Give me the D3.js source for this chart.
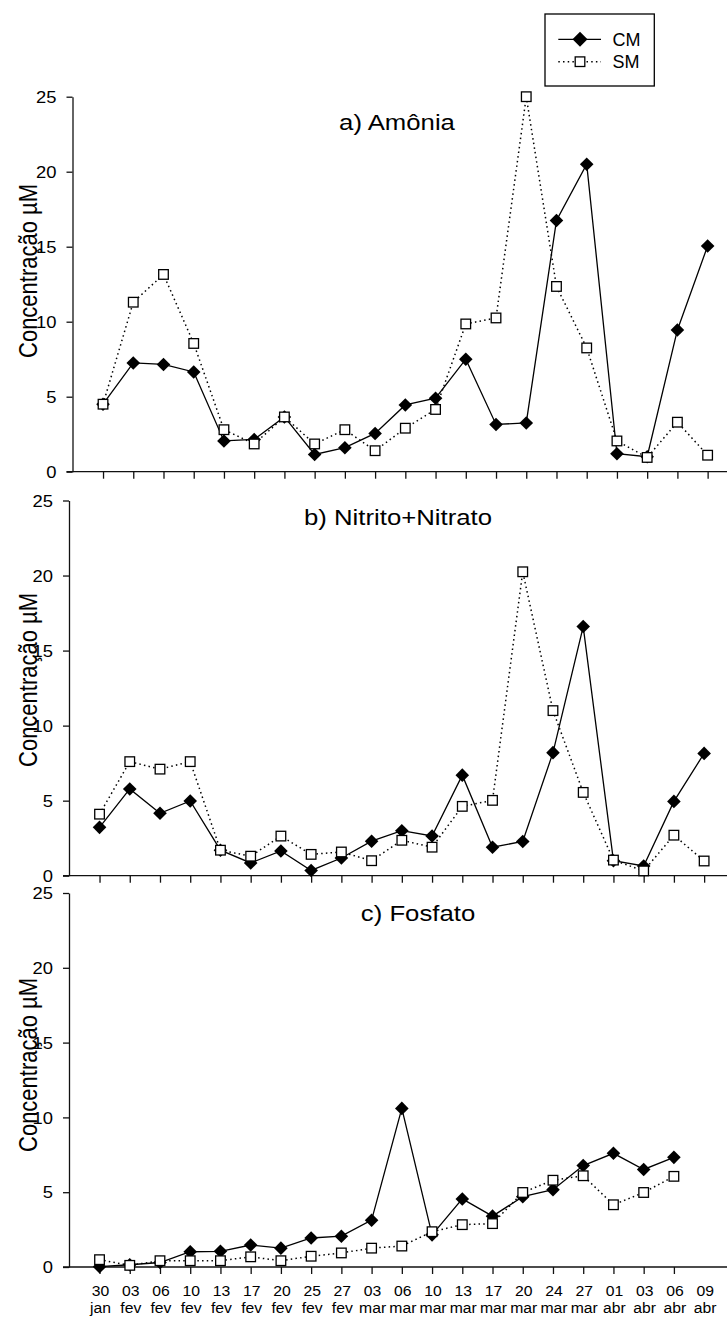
<!DOCTYPE html>
<html>
<head>
<meta charset="utf-8">
<script src="https://cdn.jsdelivr.net/npm/d3@7"></script>
<style>
  html, body { margin: 0; padding: 0; background: #fff; }
  svg { display: block; }
  text { font-family: "Liberation Sans", Arial, Helvetica, sans-serif; fill: #000; }
</style>
</head>
<body>
<svg id="chart" width="727" height="1318"></svg>
<script>
// Sampling dates (day / month)
const days   = ["30","03","06","10","13","17","20","25","27","03","06","10","13","17","20","24","27","01","03","06","09"];
const months = ["jan","fev","fev","fev","fev","fev","fev","fev","fev","mar","mar","mar","mar","mar","mar","mar","mar","abr","abr","abr","abr"];
const categories = days.map((d, i) => d + " " + months[i]);

// Concentrations (µM) — CM and SM series for each nutrient
const amoniaCM  = [4.5, 7.25, 7.15, 6.65, 2.05, 2.15, 3.65, 1.15, 1.6, 2.55, 4.45, 4.9, 7.5, 3.15, 3.25, 16.75, 20.5, 1.2, 1.0, 9.45, 15.05];
const amoniaSM  = [4.5, 11.3, 13.15, 8.55, 2.8, 1.85, 3.65, 1.85, 2.8, 1.4, 2.9, 4.15, 9.85, 10.25, 25.0, 12.35, 8.25, 2.05, 0.95, 3.3, 1.1];
const nitratoCM = [3.22, 5.78, 4.16, 4.98, 1.7, 0.85, 1.65, 0.35, 1.18, 2.3, 3.0, 2.65, 6.7, 1.9, 2.28, 8.2, 16.6, 1.0, 0.65, 4.95, 8.15];
const nitratoSM = [4.1, 7.6, 7.1, 7.6, 1.7, 1.3, 2.64, 1.42, 1.58, 1.0, 2.36, 1.9, 4.62, 5.02, 20.25, 11.0, 5.55, 1.04, 0.32, 2.7, 0.98];
const fosfatoCM = [0.02, 0.15, 0.3, 1.02, 1.05, 1.47, 1.26, 1.94, 2.06, 3.13, 10.6, 2.15, 4.55, 3.4, 4.7, 5.17, 6.78, 7.6, 6.52, 7.33, null];
const fosfatoSM = [0.49, 0.11, 0.42, 0.42, 0.42, 0.68, 0.42, 0.72, 0.94, 1.26, 1.4, 2.36, 2.83, 2.9, 4.98, 5.8, 6.1, 4.16, 4.98, 6.06, null];

const yTicks = [0, 5, 10, 15, 20, 25];
const titles = ["a) Amônia", "b) Nitrito+Nitrato", "c) Fosfato"];
const yTitle = "Concentração µM";
const seriesNames = ["CM", "SM"];

// Panel geometry
const panels = [
  { cm: amoniaCM,  sm: amoniaSM,  title: titles[0], axisX: 72.5, top: 96.7,  bottom: 471.7, titleX: 397, titleY: 130, labelY: 271, tickAll: true,  xLabels: false },
  { cm: nitratoCM, sm: nitratoSM, title: titles[1], axisX: 69,   top: 500.5, bottom: 875.7, titleX: 398, titleY: 525, labelY: 680, tickAll: true,  xLabels: false },
  { cm: fosfatoCM, sm: fosfatoSM, title: titles[2], axisX: 69,   top: 893,   bottom: 1267,  titleX: 418, titleY: 921, labelY: 1065, tickAll: false, xLabels: true }
];
const step = 30.23;
const W = 727;

const svg = d3.select("#chart");
svg.append("rect").attr("width", W).attr("height", 1318).attr("fill", "#fff");

const diamond = d3.symbol().type(d3.symbolDiamond2 || d3.symbolSquare);
function diamondPath(r) { return `M0,${-r}L${r},0L0,${r}L${-r},0Z`; }

panels.forEach(p => {
  const g = svg.append("g");
  const x = d3.scalePoint()
    .domain(categories)
    .range([p.axisX + step + 0.3, p.axisX + step + 0.3 + step * (categories.length - 1)]);
  const y = d3.scaleLinear().domain([0, 25]).range([p.bottom, p.top]);

  // y axis
  const ya = g.append("g")
    .attr("transform", `translate(${p.axisX},0)`)
    .call(d3.axisLeft(y).tickValues(yTicks).tickSize(6).tickSizeOuter(0));
  ya.select(".domain").attr("stroke", "#111").attr("stroke-width", 1.3);
  ya.selectAll(".tick line").attr("stroke", "#111").attr("stroke-width", 1.3);
  ya.selectAll(".tick text")
    .attr("x", null).attr("dy", "0.36em")
    .attr("font-size", 16).attr("font-family", null)
    .attr("text-anchor", "end")
    .attr("transform", "translate(-16,0) scale(1.15,1)");

  // x axis: baseline plus ticks
  g.append("line")
    .attr("x1", p.axisX - 6).attr("x2", W)
    .attr("y1", y(0)).attr("y2", y(0))
    .attr("stroke", "#111").attr("stroke-width", 1.3);
  const tickCats = p.tickAll ? categories : categories.filter((c, i) => p.cm[i] !== null);
  const xa = g.append("g")
    .attr("transform", `translate(0,${y(0)})`)
    .call(d3.axisBottom(x).tickValues(tickCats).tickSize(7).tickFormat(""));
  xa.select(".domain").remove();
  xa.selectAll(".tick line").attr("stroke", "#111").attr("stroke-width", 1.3);

  if (p.xLabels) {
    const lab = g.append("g").selectAll("g.xl").data(categories).join("g")
      .attr("class", "xl")
      .attr("transform", d => `translate(${x(d) + 1},0)`);
    lab.append("text")
      .attr("text-anchor", "middle").attr("font-size", 15)
      .attr("transform", `translate(0,${y(0) + 28.5}) scale(1.05,1)`)
      .text(d => d.split(" ")[0]);
    lab.append("text")
      .attr("text-anchor", "middle").attr("font-size", 15)
      .attr("transform", `translate(0,${y(0) + 45.5}) scale(1.05,1)`)
      .text(d => d.split(" ")[1]);
  }

  // panel title
  g.append("text")
    .attr("text-anchor", "middle").attr("font-size", 22)
    .attr("transform", `translate(${p.titleX},${p.titleY}) scale(1.17,1)`)
    .text(p.title);

  // y axis title
  g.append("text")
    .attr("text-anchor", "middle").attr("font-size", 22)
    .attr("transform", `translate(37,${p.labelY}) scale(1.15,1) rotate(-90)`)
    .text(yTitle);

  const cmPts = p.cm.map((v, i) => ({ c: categories[i], v })).filter(d => d.v !== null);
  const smPts = p.sm.map((v, i) => ({ c: categories[i], v })).filter(d => d.v !== null);
  const line = d3.line().x(d => x(d.c)).y(d => y(d.v));

  // CM: solid line, filled diamonds
  g.append("path").datum(cmPts).attr("d", line)
    .attr("fill", "none").attr("stroke", "#000").attr("stroke-width", 1.3);
  g.selectAll("path.cm").data(cmPts).join("path").attr("class", "cm")
    .attr("d", diamondPath(6.8))
    .attr("transform", d => `translate(${x(d.c)},${y(d.v)})`)
    .attr("fill", "#000");

  // SM: dotted line, open squares
  g.append("path").datum(smPts).attr("d", line)
    .attr("fill", "none").attr("stroke", "#000").attr("stroke-width", 1.5)
    .attr("stroke-dasharray", "1.5,3.2");
  g.selectAll("rect.sm").data(smPts).join("rect").attr("class", "sm")
    .attr("x", d => x(d.c) - 4.8).attr("y", d => y(d.v) - 4.8)
    .attr("width", 9.6).attr("height", 9.6)
    .attr("fill", "#fff").attr("stroke", "#000").attr("stroke-width", 1.3);
});

// Legend
const lg = svg.append("g");
lg.append("rect").attr("x", 545).attr("y", 14).attr("width", 109.3).attr("height", 72)
  .attr("fill", "#fff").attr("stroke", "#000").attr("stroke-width", 1.3);
const rows = [39.3, 61.7];
lg.append("line").attr("x1", 558.3).attr("x2", 601).attr("y1", rows[0]).attr("y2", rows[0])
  .attr("stroke", "#000").attr("stroke-width", 1.3);
lg.append("path").attr("d", diamondPath(7.5)).attr("transform", `translate(580,${rows[0]})`).attr("fill", "#000");
lg.append("line").attr("x1", 558.3).attr("x2", 601).attr("y1", rows[1]).attr("y2", rows[1])
  .attr("stroke", "#000").attr("stroke-width", 1.5).attr("stroke-dasharray", "1.5,3.2");
lg.append("rect").attr("x", 580 - 4.8).attr("y", rows[1] - 4.8).attr("width", 9.6).attr("height", 9.6)
  .attr("fill", "#fff").attr("stroke", "#000").attr("stroke-width", 1.3);
seriesNames.forEach((n, i) => {
  lg.append("text").attr("x", 612.5).attr("y", rows[i] + 6.6).attr("font-size", 18).text(n);
});
</script>
</body>
</html>
